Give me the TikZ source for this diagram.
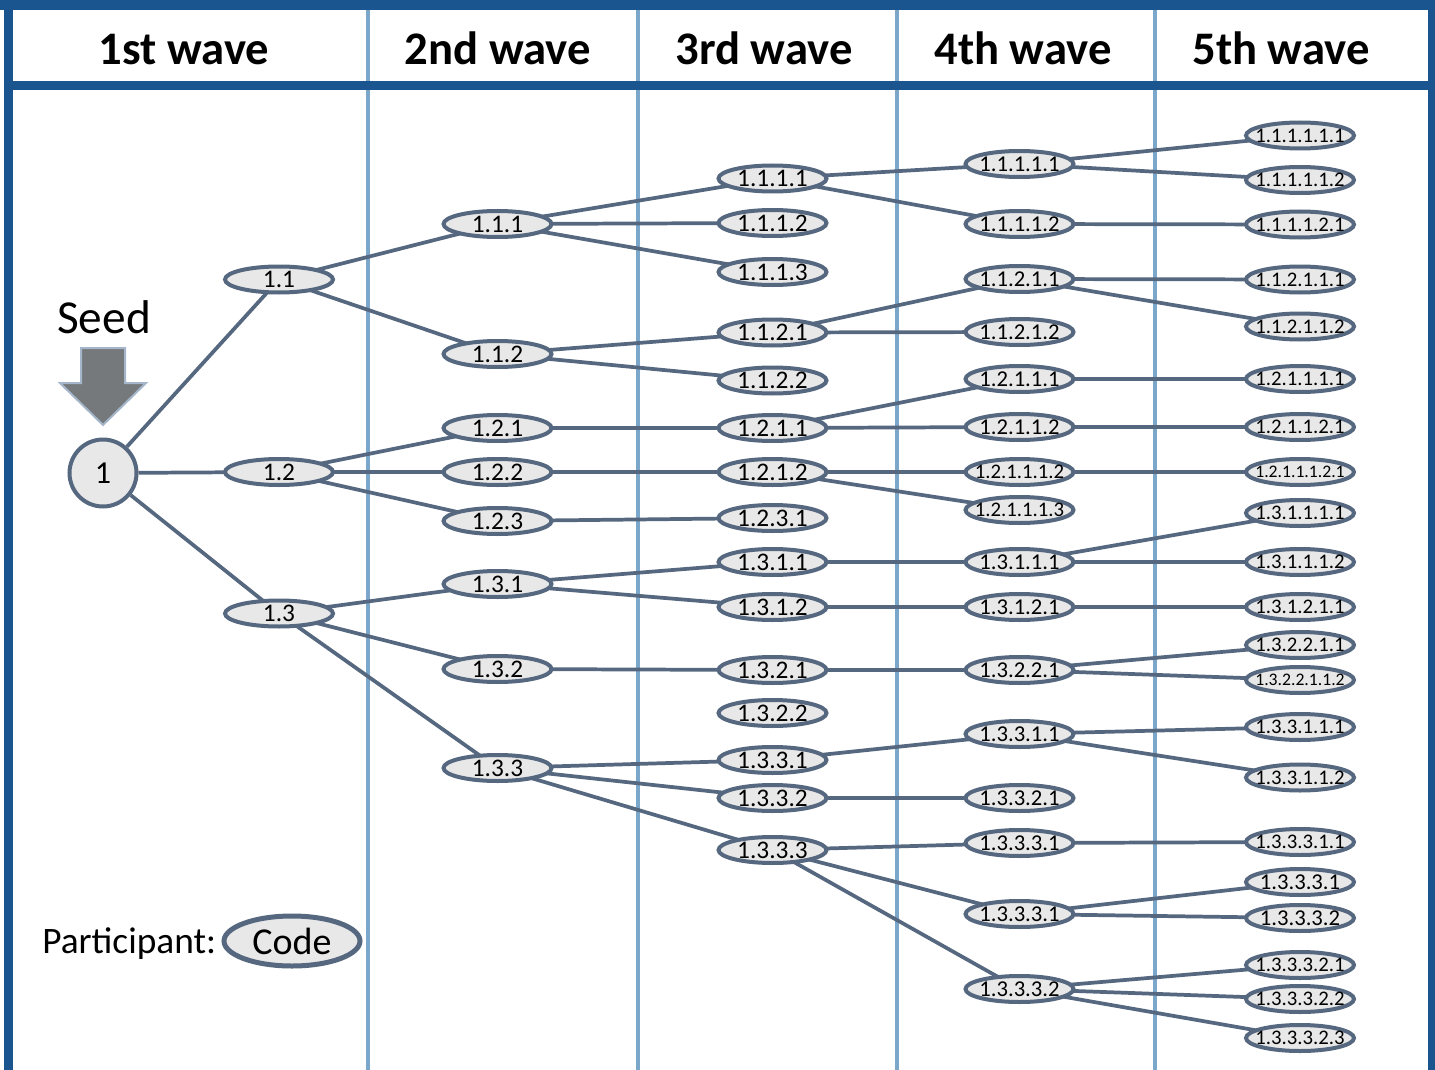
\documentclass[tikz,border=0pt]{standalone}
\usepackage{fontspec}
\usepackage{graphicx}
\setmainfont{Carlito}
\usetikzlibrary{shapes.geometric}

\definecolor{framec}{HTML}{1B5590}
\definecolor{sepc}{HTML}{7BA7CB}
\definecolor{edgec}{HTML}{56687F}
\definecolor{nodefill}{HTML}{E8E8E8}
\definecolor{arrowfill}{HTML}{76797C}
\definecolor{arrowline}{HTML}{A5B6CA}

% label text: shrunk to a maximum width, zero-width box so the ellipse keeps its size
\newsavebox\lblbox
\newcommand\fitlbl[1]{\sbox\lblbox{#1}\makebox[0pt]{\ifdim\wd\lblbox>67pt\resizebox{67pt}{!}{\usebox\lblbox}\else\usebox\lblbox\fi}}
% participant node: style, name, x, y, label
\newcommand\pn[5]{\node[#1] (#2) at (#3,#4) {\fitlbl{#5}};}

\tikzset{
  part/.style={ellipse, draw=edgec, line width=3pt, fill=nodefill,
    minimum width=81pt, minimum height=19.5pt, inner sep=0pt, outer sep=0pt},
  big/.style={part, font=\fontsize{19}{22}\selectfont},
  small/.style={part, font=\fontsize{17}{20}\selectfont},
  link/.style={draw=edgec, line width=2.8pt},
  hdr/.style={anchor=base, inner sep=0pt, font=\fontsize{35}{40}\selectfont\bfseries},
  sepline/.style={draw=sepc, line width=3pt},
}

\begin{document}
\begin{tikzpicture}[x=0.75pt, y=-0.75pt]
\useasboundingbox (0,0) rectangle (1435,1070);
\fill[white] (0,0) rectangle (1435,1070);

% column separators
\foreach \sx in {368,638,897,1155} \draw[sepline] (\sx,10) -- (\sx,1070);

% table frame
\fill[framec] (0,0) rectangle (1435,10);
\fill[framec] (3.5,0) rectangle (12.5,1070);
\fill[framec] (1428,0) rectangle (1435,1070);
\fill[framec] (3.5,81) rectangle (1435,90);

% column headings
\node[hdr] (h1) at (184,65) {1st wave};
\node[hdr] (h2) at (498,65) {2nd wave};
\node[hdr] (h3) at (764,65) {3rd wave};
\node[hdr] (h4) at (1023,65) {4th wave};
\node[hdr] (h5) at (1281,65) {5th wave};

% seed marker
\node[anchor=base, inner sep=0pt, font=\fontsize{35.5}{40}\selectfont] (seed) at (104,333) {Seed};
\draw[arrowline, fill=arrowfill, line width=1.5pt]
  (81,348) -- (125,348) -- (125,383) -- (146,383) -- (103,425) -- (60,383) -- (81,383) -- cycle;

% seed participant
\node[circle, draw=edgec, fill=nodefill, line width=3pt, minimum size=50.25pt, inner sep=0pt,
  font=\fontsize{24}{26}\selectfont] (p1) at (103,473) {1};

% 1st wave
\pn{big}{p1-1}{279}{279.5}{1.1}
\pn{big}{p1-2}{279}{472}{1.2}
\pn{big}{p1-3}{279}{613.5}{1.3}

% 2nd wave
\pn{big}{p1-1-1}{497.5}{224}{1.1.1}
\pn{big}{p1-1-2}{497.5}{354}{1.1.2}
\pn{big}{p1-2-1}{497.5}{428}{1.2.1}
\pn{big}{p1-2-2}{497.5}{472}{1.2.2}
\pn{big}{p1-2-3}{497.5}{521}{1.2.3}
\pn{big}{p1-3-1}{497.5}{584}{1.3.1}
\pn{big}{p1-3-2}{497.5}{669}{1.3.2}
\pn{big}{p1-3-3}{497.5}{768}{1.3.3}

% 3rd wave
\pn{big}{p1-1-1-1}{772.5}{178.5}{1.1.1.1}
\pn{big}{p1-1-1-2}{772.5}{223}{1.1.1.2}
\pn{big}{p1-1-1-3}{772.5}{272}{1.1.1.3}
\pn{big}{p1-1-2-1}{772.5}{332.5}{1.1.2.1}
\pn{big}{p1-1-2-2}{772.5}{380.5}{1.1.2.2}
\pn{big}{p1-2-1-1}{772.5}{428}{1.2.1.1}
\pn{big}{p1-2-1-2}{772.5}{472}{1.2.1.2}
\pn{big}{p1-2-3-1}{772.5}{518}{1.2.3.1}
\pn{big}{p1-3-1-1}{772.5}{562}{1.3.1.1}
\pn{big}{p1-3-1-2}{772.5}{607}{1.3.1.2}
\pn{big}{p1-3-2-1}{772.5}{670}{1.3.2.1}
\pn{big}{p1-3-2-2}{772.5}{713}{1.3.2.2}
\pn{big}{p1-3-3-1}{772.5}{760}{1.3.3.1}
\pn{big}{p1-3-3-2}{772.5}{798}{1.3.3.2}
\pn{big}{p1-3-3-3}{772.5}{850}{1.3.3.3}

% 4th wave
\pn{small}{p1-1-1-1-1}{1019.5}{164}{1.1.1.1.1}
\pn{small}{p1-1-1-1-2}{1019.5}{224}{1.1.1.1.2}
\pn{small}{p1-1-2-1-1}{1019.5}{279}{1.1.2.1.1}
\pn{small}{p1-1-2-1-2}{1019.5}{332}{1.1.2.1.2}
\pn{small}{p1-2-1-1-1}{1019.5}{379}{1.2.1.1.1}
\pn{small}{p1-2-1-1-2}{1019.5}{427}{1.2.1.1.2}
\pn{small}{p1-2-1-1-1-2}{1019.5}{472}{1.2.1.1.1.2}
\pn{small}{p1-2-1-1-1-3}{1019.5}{510}{1.2.1.1.1.3}
\pn{small}{p1-3-1-1-1}{1019.5}{562}{1.3.1.1.1}
\pn{small}{p1-3-1-2-1}{1019.5}{607}{1.3.1.2.1}
\pn{small}{p1-3-2-2-1}{1019.5}{670}{1.3.2.2.1}
\pn{small}{p1-3-3-1-1}{1019.5}{734}{1.3.3.1.1}
\pn{small}{p1-3-3-2-1}{1019.5}{798}{1.3.3.2.1}
\pn{small}{p1-3-3-3-1}{1019.5}{843}{1.3.3.3.1}
\pn{small}{p1-3-3-3-1b}{1019.5}{914}{1.3.3.3.1}
\pn{small}{p1-3-3-3-2}{1019.5}{989}{1.3.3.3.2}

% 5th wave
\pn{small}{p1-1-1-1-1-1}{1300}{135.5}{1.1.1.1.1.1}
\pn{small}{p1-1-1-1-1-2}{1300}{180}{1.1.1.1.1.2}
\pn{small}{p1-1-1-1-2-1}{1300}{224.5}{1.1.1.1.2.1}
\pn{small}{p1-1-2-1-1-1}{1300}{279.5}{1.1.2.1.1.1}
\pn{small}{p1-1-2-1-1-2}{1300}{326.5}{1.1.2.1.1.2}
\pn{small}{p1-2-1-1-1-1}{1300}{379}{1.2.1.1.1.1}
\pn{small}{p1-2-1-1-2-1}{1300}{427}{1.2.1.1.2.1}
\pn{small}{p1-2-1-1-1-2-1}{1300}{472}{1.2.1.1.1.2.1}
\pn{small}{p1-3-1-1-1-1}{1300}{513}{1.3.1.1.1.1}
\pn{small}{p1-3-1-1-1-2}{1300}{562}{1.3.1.1.1.2}
\pn{small}{p1-3-1-2-1-1}{1300}{607}{1.3.1.2.1.1}
\pn{small}{p1-3-2-2-1-1}{1300}{645}{1.3.2.2.1.1}
\pn{small}{p1-3-2-2-1-1-2}{1300}{680}{1.3.2.2.1.1.2}
\pn{small}{p1-3-3-1-1-1}{1300}{727}{1.3.3.1.1.1}
\pn{small}{p1-3-3-1-1-2}{1300}{777.5}{1.3.3.1.1.2}
\pn{small}{p1-3-3-3-1-1}{1300}{842}{1.3.3.3.1.1}
\pn{small}{p1-3-3-3-1e}{1300}{882}{1.3.3.3.1}
\pn{small}{p1-3-3-3-2e}{1300}{918}{1.3.3.3.2}
\pn{small}{p1-3-3-3-2-1}{1300}{965}{1.3.3.3.2.1}
\pn{small}{p1-3-3-3-2-2}{1300}{999}{1.3.3.3.2.2}
\pn{small}{p1-3-3-3-2-3}{1300}{1038}{1.3.3.3.2.3}

% referral links
\foreach \a/\b in {
  p1/p1-1, p1/p1-2, p1/p1-3,
  p1-1/p1-1-1, p1-1/p1-1-2,
  p1-2/p1-2-1, p1-2/p1-2-2, p1-2/p1-2-3,
  p1-3/p1-3-1, p1-3/p1-3-2, p1-3/p1-3-3,
  p1-1-1/p1-1-1-1, p1-1-1/p1-1-1-2, p1-1-1/p1-1-1-3,
  p1-1-2/p1-1-2-1, p1-1-2/p1-1-2-2,
  p1-2-1/p1-2-1-1, p1-2-2/p1-2-1-2, p1-2-3/p1-2-3-1,
  p1-3-1/p1-3-1-1, p1-3-1/p1-3-1-2, p1-3-2/p1-3-2-1,
  p1-3-3/p1-3-3-1, p1-3-3/p1-3-3-2, p1-3-3/p1-3-3-3,
  p1-1-1-1/p1-1-1-1-1, p1-1-1-1/p1-1-1-1-2,
  p1-1-2-1/p1-1-2-1-1, p1-1-2-1/p1-1-2-1-2,
  p1-2-1-1/p1-2-1-1-1, p1-2-1-1/p1-2-1-1-2,
  p1-2-1-2/p1-2-1-1-1-2, p1-2-1-2/p1-2-1-1-1-3,
  p1-3-1-1/p1-3-1-1-1, p1-3-1-2/p1-3-1-2-1, p1-3-2-1/p1-3-2-2-1,
  p1-3-3-1/p1-3-3-1-1, p1-3-3-2/p1-3-3-2-1,
  p1-3-3-3/p1-3-3-3-1, p1-3-3-3/p1-3-3-3-1b, p1-3-3-3/p1-3-3-3-2,
  p1-1-1-1-1/p1-1-1-1-1-1, p1-1-1-1-1/p1-1-1-1-1-2,
  p1-1-1-1-2/p1-1-1-1-2-1,
  p1-1-2-1-1/p1-1-2-1-1-1, p1-1-2-1-1/p1-1-2-1-1-2,
  p1-2-1-1-1/p1-2-1-1-1-1, p1-2-1-1-2/p1-2-1-1-2-1,
  p1-2-1-1-1-2/p1-2-1-1-1-2-1,
  p1-3-1-1-1/p1-3-1-1-1-1, p1-3-1-1-1/p1-3-1-1-1-2,
  p1-3-1-2-1/p1-3-1-2-1-1,
  p1-3-2-2-1/p1-3-2-2-1-1, p1-3-2-2-1/p1-3-2-2-1-1-2,
  p1-3-3-1-1/p1-3-3-1-1-1, p1-3-3-1-1/p1-3-3-1-1-2,
  p1-3-3-3-1/p1-3-3-3-1-1,
  p1-3-3-3-1b/p1-3-3-3-1e, p1-3-3-3-1b/p1-3-3-3-2e,
  p1-3-3-3-2/p1-3-3-3-2-1, p1-3-3-3-2/p1-3-3-3-2-2, p1-3-3-3-2/p1-3-3-3-2-3}
  \draw[link] (\a) -- (\b);

% legend
\node[anchor=base west, inner sep=0pt, font=\fontsize{28}{30}\selectfont] (legtext) at (42,953) {Participant:};
\node[ellipse, draw=edgec, fill=nodefill, line width=3.75pt, minimum width=102pt, minimum height=37.5pt,
  inner sep=0pt, font=\fontsize{28.5}{30}\selectfont] (legcode) at (292,941) {\makebox[0pt]{Code}};
\end{tikzpicture}
\end{document}
